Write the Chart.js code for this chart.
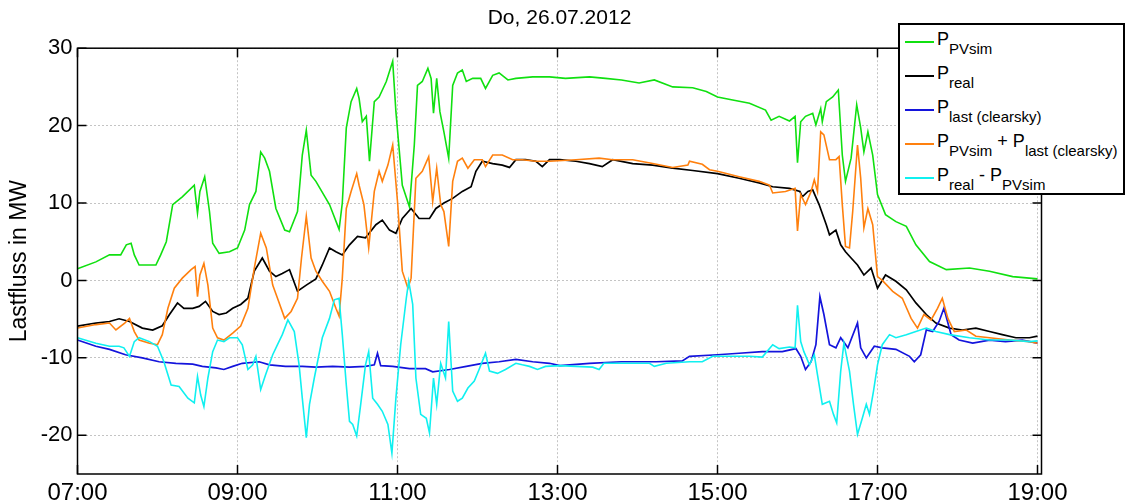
<!DOCTYPE html>
<html>
<head>
<meta charset="utf-8">
<script src="https://cdn.jsdelivr.net/npm/chart.js@4"></script>
<style>
  body { margin: 0; background: #fff; }
  #wrap { position: relative; width: 1126px; height: 504px; }
  #legend { position: absolute; left: 898px; top: 23px; width: 223px; height: 168px; border: 2px solid #000; background: #fff; font-family: "Liberation Sans", Arial, sans-serif; color: #000; }
  #legend .sw { position: absolute; left: 5px; width: 29px; height: 2px; }
  #legend .tx { position: absolute; left: 37px; font-size: 18px; line-height: 16px; white-space: nowrap; }
  #legend .s { position: relative; top: 8.5px; font-size: 15px; }
</style>
</head>
<body>
<div id="wrap">
  <canvas id="c" width="1126" height="504"></canvas>
  <div id="legend"></div>
</div>
<script>
var tPV = [7.00,7.23,7.40,7.54,7.61,7.67,7.71,7.77,7.98,8.04,8.11,8.19,8.31,8.46,8.50,8.53,8.59,8.65,8.69,8.77,8.90,9.00,9.09,9.15,9.23,9.29,9.34,9.40,9.48,9.59,9.65,9.75,9.81,9.86,9.92,9.98,10.15,10.27,10.31,10.36,10.42,10.49,10.52,10.56,10.61,10.65,10.71,10.77,10.86,10.94,10.98,11.06,11.15,11.21,11.25,11.31,11.38,11.42,11.45,11.49,11.53,11.58,11.64,11.69,11.75,11.81,11.86,11.94,12.04,12.10,12.19,12.27,12.38,12.48,12.69,12.90,13.10,13.40,13.60,13.80,14.02,14.21,14.44,14.69,14.86,15.00,15.19,15.40,15.60,15.67,15.77,15.90,15.97,16.00,16.04,16.10,16.19,16.23,16.29,16.31,16.36,16.44,16.51,16.56,16.60,16.67,16.74,16.79,16.83,16.88,16.94,17.00,17.10,17.23,17.36,17.48,17.65,17.86,18.15,18.40,18.69,19.00];
var pPV = [1.5,2.4,3.3,3.3,4.6,4.8,3.3,2.0,2.0,3.3,5.0,9.8,10.8,12.3,8.7,11.5,13.4,8.9,4.8,3.5,3.7,4.2,6.5,9.8,11.5,16.6,15.8,14.1,9.3,6.5,6.3,8.9,16.2,19.4,13.6,12.8,9.8,6.6,10.0,19.7,23.1,24.8,23.5,20.5,21.2,15.4,23.1,23.7,25.7,28.3,21.8,12.3,9.5,17.5,25.2,25.7,27.4,26.1,21.6,26.1,21.8,19.2,15.8,25.2,26.8,27.2,25.7,26.1,26.1,24.8,26.5,26.8,25.9,26.1,26.3,26.3,26.1,26.3,26.1,25.9,25.5,25.9,25.0,24.9,24.4,23.7,23.3,22.9,22.0,20.7,21.2,20.6,21.2,15.2,20.5,21.2,21.6,20.1,22.2,20.5,23.1,23.7,24.6,16.2,12.8,15.8,22.7,19.7,16.6,19.2,16.2,11.1,8.5,7.6,7.0,4.6,2.45,1.4,1.6,1.2,0.5,0.2];

var tReal = [7.00,7.23,7.40,7.52,7.65,7.81,7.94,8.06,8.15,8.25,8.33,8.44,8.52,8.60,8.69,8.77,8.86,8.94,9.04,9.13,9.21,9.31,9.40,9.48,9.56,9.65,9.75,9.86,9.98,10.06,10.15,10.23,10.31,10.40,10.50,10.60,10.73,10.81,10.90,10.98,11.06,11.17,11.27,11.40,11.48,11.58,11.69,11.81,11.92,11.98,12.06,12.19,12.31,12.40,12.48,12.60,12.73,12.81,12.90,13.03,13.23,13.40,13.56,13.69,13.94,14.19,14.44,14.69,15.00,15.27,15.52,15.69,15.90,16.03,16.06,16.13,16.19,16.27,16.36,16.40,16.48,16.54,16.60,16.67,16.75,16.83,16.92,17.00,17.10,17.23,17.36,17.48,17.61,17.73,17.90,18.06,18.23,18.40,18.56,18.73,18.90,19.00];
var pReal = [-5.9,-5.5,-5.3,-4.95,-5.3,-6.15,-6.4,-5.85,-4.4,-2.9,-3.6,-3.6,-3.35,-2.7,-4.0,-4.4,-4.2,-3.6,-3.1,-2.3,1.2,2.9,1.2,0.5,0.9,1.4,-1.4,-0.6,0.2,2.0,4.2,3.7,3.3,4.6,5.7,5.5,7.2,7.8,6.5,6.1,8.0,9.3,8.0,8.0,9.3,10.0,10.6,11.5,12.1,14.1,15.4,15.1,14.9,14.6,15.6,15.6,15.4,14.7,15.6,15.6,15.4,15.1,14.7,15.6,15.1,14.9,14.5,14.2,13.8,13.2,12.6,12.1,11.9,11.5,10.8,11.5,11.7,9.8,7.2,5.9,6.5,4.6,3.7,2.9,2.0,0.7,1.6,-1.0,0.7,-0.1,-1.2,-2.9,-4.4,-5.5,-6.15,-6.4,-6.15,-6.6,-7.0,-7.4,-7.4,-7.2];

var tLast = [7.00,7.23,7.40,7.60,7.81,8.02,8.23,8.44,8.56,8.73,8.83,8.94,9.06,9.27,9.40,9.60,9.81,9.98,10.19,10.40,10.60,10.71,10.75,10.79,10.94,11.15,11.35,11.44,11.65,11.86,12.06,12.27,12.48,12.69,12.90,13.03,13.40,13.80,14.23,14.56,14.65,15.00,15.27,15.56,15.81,15.98,16.04,16.10,16.17,16.23,16.28,16.33,16.40,16.48,16.54,16.63,16.75,16.79,16.86,16.96,17.06,17.23,17.40,17.46,17.54,17.61,17.69,17.77,17.83,17.92,18.02,18.19,18.40,18.60,18.81,19.00];
var pLast = [-7.7,-8.5,-8.9,-9.6,-10.0,-10.5,-10.7,-10.8,-11.1,-11.3,-11.5,-11.1,-10.7,-10.5,-10.9,-11.1,-11.1,-11.2,-11.1,-11.2,-11.1,-10.9,-9.4,-11.0,-11.1,-11.4,-11.4,-11.8,-11.5,-11.1,-10.7,-10.5,-10.2,-10.5,-10.7,-11.0,-10.7,-10.5,-10.5,-10.4,-9.8,-9.6,-9.4,-9.2,-9.2,-8.8,-9.8,-11.5,-10.5,-8.3,-2.1,-4.4,-8.3,-8.7,-7.4,-8.7,-5.5,-8.7,-10.0,-8.5,-8.7,-8.9,-9.8,-10.5,-9.6,-6.4,-6.6,-5.3,-3.6,-7.0,-7.7,-8.1,-7.7,-7.9,-7.7,-8.1];

var tSum = [7.00,7.23,7.40,7.48,7.59,7.65,7.71,7.77,7.90,8.00,8.06,8.13,8.21,8.31,8.42,8.47,8.50,8.53,8.58,8.63,8.69,8.75,8.83,8.94,9.04,9.13,9.21,9.29,9.36,9.44,9.50,9.59,9.67,9.75,9.80,9.86,9.92,9.98,10.06,10.15,10.23,10.27,10.31,10.36,10.42,10.49,10.52,10.58,10.64,10.71,10.77,10.81,10.88,10.94,11.00,11.06,11.13,11.17,11.23,11.31,11.39,11.44,11.49,11.54,11.58,11.64,11.69,11.75,11.81,11.88,11.96,12.06,12.10,12.19,12.31,12.44,12.56,12.73,12.90,13.23,13.52,13.69,13.94,14.19,14.44,14.63,14.65,14.81,14.90,15.00,15.27,15.52,15.65,15.69,15.85,15.97,16.00,16.04,16.10,16.17,16.21,16.25,16.29,16.33,16.40,16.48,16.52,16.56,16.60,16.65,16.69,16.75,16.79,16.83,16.88,16.94,17.00,17.06,17.19,17.31,17.42,17.50,17.58,17.67,17.75,17.81,17.88,17.96,18.11,18.23,18.40,18.65,18.90,19.00];
var pSum = [-6.15,-5.7,-5.5,-6.4,-5.5,-4.9,-6.6,-7.7,-8.1,-8.3,-7.0,-3.6,-1.0,0.3,1.4,1.8,-2.1,0.7,2.2,-0.6,-6.15,-7.4,-7.7,-6.8,-5.9,-3.6,1.6,6.1,4.2,-0.6,-2.3,-4.9,-4.0,-2.3,2.9,8.3,2.9,1.2,-0.1,-1.4,-3.6,-4.6,0.3,9.3,11.5,13.8,12.3,9.8,4.2,11.5,14.1,12.8,14.9,17.5,10.2,1.2,-1.0,0.3,13.2,14.1,16.0,10.2,14.5,9.8,8.9,4.4,12.8,15.4,15.8,14.5,15.6,15.6,14.7,16.2,16.2,15.6,15.6,15.4,15.4,15.6,15.8,15.6,15.6,15.1,14.6,14.9,15.4,15.0,14.3,14.1,13.4,12.8,12.3,11.3,11.5,11.9,6.4,11.1,9.8,11.5,13.0,11.5,19.2,18.8,15.6,15.6,16.0,9.8,4.4,4.2,8.9,17.5,13.2,6.8,9.3,7.2,0.5,0.0,-1.4,-2.3,-4.9,-6.15,-4.4,-5.1,-3.6,-2.3,-4.9,-6.6,-6.4,-7.2,-7.4,-7.7,-7.9,-8.1];

var tDiff = [7.00,7.23,7.40,7.52,7.58,7.65,7.71,7.77,7.90,8.00,8.08,8.17,8.27,8.38,8.46,8.50,8.54,8.58,8.63,8.69,8.75,8.83,8.90,9.00,9.06,9.13,9.19,9.23,9.29,9.35,9.44,9.50,9.56,9.63,9.71,9.77,9.81,9.86,9.90,9.96,10.06,10.15,10.21,10.27,10.31,10.36,10.40,10.44,10.49,10.54,10.60,10.64,10.69,10.75,10.81,10.88,10.93,10.98,11.04,11.11,11.14,11.19,11.23,11.29,11.36,11.40,11.45,11.49,11.54,11.60,11.64,11.69,11.75,11.81,11.88,11.96,12.02,12.10,12.15,12.25,12.35,12.48,12.56,12.65,12.75,12.85,13.03,13.23,13.44,13.52,13.58,13.81,14.15,14.21,14.36,14.65,14.81,14.94,15.15,15.40,15.56,15.69,15.77,15.90,15.97,16.00,16.04,16.08,16.15,16.21,16.25,16.31,16.40,16.45,16.49,16.54,16.58,16.65,16.70,16.75,16.81,16.86,16.90,16.95,17.00,17.06,17.15,17.23,17.36,17.48,17.61,17.73,17.90,18.15,18.40,18.65,18.90,19.00];
var pDiff = [-7.4,-8.1,-8.5,-8.5,-8.7,-9.8,-7.9,-7.4,-7.9,-8.5,-10.5,-13.5,-13.7,-15.2,-15.8,-12.4,-14.8,-16.3,-12.6,-9.2,-7.7,-7.9,-7.4,-7.4,-8.3,-11.5,-10.9,-9.8,-14.1,-12.2,-9.6,-8.3,-7.0,-5.1,-6.6,-10.9,-15.2,-20.3,-16.0,-12.6,-7.4,-4.9,-2.5,-2.3,-7.0,-13.5,-18.2,-18.6,-20.1,-16.0,-10.9,-9.2,-15.2,-16.0,-16.9,-18.6,-22.3,-15.2,-8.3,-2.3,-0.1,-3.1,-12.6,-17.3,-17.8,-19.7,-12.6,-16.0,-10.7,-12.6,-5.3,-14.3,-15.6,-15.2,-13.9,-13.0,-11.5,-9.4,-11.7,-12.0,-11.5,-10.7,-10.9,-11.1,-11.5,-11.1,-11.0,-11.1,-11.2,-11.5,-10.7,-10.7,-10.7,-11.1,-10.7,-10.5,-10.5,-9.8,-9.8,-9.8,-9.9,-8.3,-8.8,-8.6,-8.7,-3.2,-7.9,-9.2,-10.9,-9.6,-12.2,-16.0,-15.6,-17.3,-18.4,-11.7,-8.1,-11.7,-16.0,-19.9,-17.8,-16.0,-17.3,-14.3,-10.9,-8.3,-7.0,-7.4,-7.0,-6.6,-6.15,-6.6,-7.0,-7.4,-7.7,-7.7,-7.9,-7.8];

var xTicks = [7, 9, 11, 13, 15, 17, 19];
var yTicks = [-20, -10, 0, 10, 20, 30];

var colPV = '#10e010', colReal = '#000000', colLast = '#1414dc', colSum = '#ff800e', colDiff = '#10f0f0';
var fam = '"Liberation Sans", Arial, sans-serif';

function pts(t, v) {
  return t.map(function (x, i) { return {x: x, y: v[i]}; });
}

// Legende als HTML (Tiefstellung)
var legendRows = [
  [colPV, 'P<span class="s">PVsim</span>'],
  [colReal, 'P<span class="s">real</span>'],
  [colLast, 'P<span class="s">last (clearsky)</span>'],
  [colSum, 'P<span class="s">PVsim</span> + P<span class="s">last (clearsky)</span>'],
  [colDiff, 'P<span class="s">real</span> - P<span class="s">PVsim</span>']
];
var lg = document.getElementById('legend');
legendRows.forEach(function (r, i) {
  var y = 17 + 34 * i;
  lg.innerHTML += '<div class="sw" style="top:' + (y - 1) + 'px;background:' + r[0] + '"></div>' +
    '<div class="tx" style="top:' + (y - 11) + 'px">' + r[1] + '</div>';
});

// Rahmen + Ticks nach innen (Matlab-Stil)
var boxPlugin = {
  id: 'box',
  afterDraw: function (chart) {
    var ctx = chart.ctx, a = chart.chartArea, sx = chart.scales.x, sy = chart.scales.y;
    ctx.save();
    ctx.strokeStyle = '#000';
    ctx.lineWidth = 1.5;
    ctx.strokeRect(a.left, a.top, a.right - a.left, a.bottom - a.top);
    ctx.beginPath();
    yTicks.forEach(function (v) {
      var py = sy.getPixelForValue(v);
      ctx.moveTo(a.left, py); ctx.lineTo(a.left + 9, py);
      ctx.moveTo(a.right, py); ctx.lineTo(a.right - 9, py);
    });
    xTicks.forEach(function (v) {
      var px = sx.getPixelForValue(v);
      ctx.moveTo(px, a.bottom); ctx.lineTo(px, a.bottom - 9);
      ctx.moveTo(px, a.top); ctx.lineTo(px, a.top + 9);
    });
    ctx.stroke();
    ctx.restore();
  }
};

new Chart(document.getElementById('c'), {
  type: 'line',
  data: {
    datasets: [
      {label: 'P_PVsim', data: pts(tPV, pPV), borderColor: colPV, borderWidth: 1.6, order: 5},
      {label: 'P_real', data: pts(tReal, pReal), borderColor: colReal, borderWidth: 1.7, order: 4},
      {label: 'P_last', data: pts(tLast, pLast), borderColor: colLast, borderWidth: 1.7, order: 3},
      {label: 'P_PVsim + P_last', data: pts(tSum, pSum), borderColor: colSum, borderWidth: 1.6, order: 2},
      {label: 'P_real - P_PVsim', data: pts(tDiff, pDiff), borderColor: colDiff, borderWidth: 1.6, order: 1}
    ]
  },
  options: {
    responsive: false,
    animation: false,
    elements: {point: {radius: 0}, line: {tension: 0, fill: false}},
    layout: {padding: {left: 0, right: 84.5, top: 0, bottom: 0}},
    plugins: {
      legend: {display: false},
      tooltip: {enabled: false},
      title: {
        display: true,
        fullSize: false,
        text: 'Do, 26.07.2012',
        color: '#000',
        font: {family: fam, size: 21, weight: 'normal'},
        padding: {top: 6, bottom: 17}
      }
    },
    scales: {
      x: {
        type: 'linear', min: 7, max: 19.05,
        afterBuildTicks: function (s) { s.ticks = xTicks.map(function (v) { return {value: v}; }); },
        afterFit: function (s) { s.height = 30; },
        ticks: {
          color: '#000', font: {family: fam, size: 24}, padding: 5, maxRotation: 0, autoSkip: false,
          callback: function (v) { return (v < 10 ? '0' : '') + v + ':00'; }
        },
        grid: {color: '#c4c4c4', lineWidth: 1, drawTicks: false},
        border: {display: false, dash: [2, 2]}
      },
      y: {
        min: -25, max: 30,
        afterBuildTicks: function (s) { s.ticks = yTicks.map(function (v) { return {value: v}; }); },
        afterFit: function (s) { s.width = 77.5; },
        ticks: {color: '#000', font: {family: fam, size: 22}, padding: 5},
        grid: {color: '#c4c4c4', lineWidth: 1, drawTicks: false},
        border: {display: false, dash: [2, 2]},
        title: {display: true, text: 'Lastfluss in MW', color: '#000', font: {family: fam, size: 23}, padding: {top: 6, bottom: 0}}
      }
    }
  },
  plugins: [boxPlugin]
});
</script>
</body>
</html>
